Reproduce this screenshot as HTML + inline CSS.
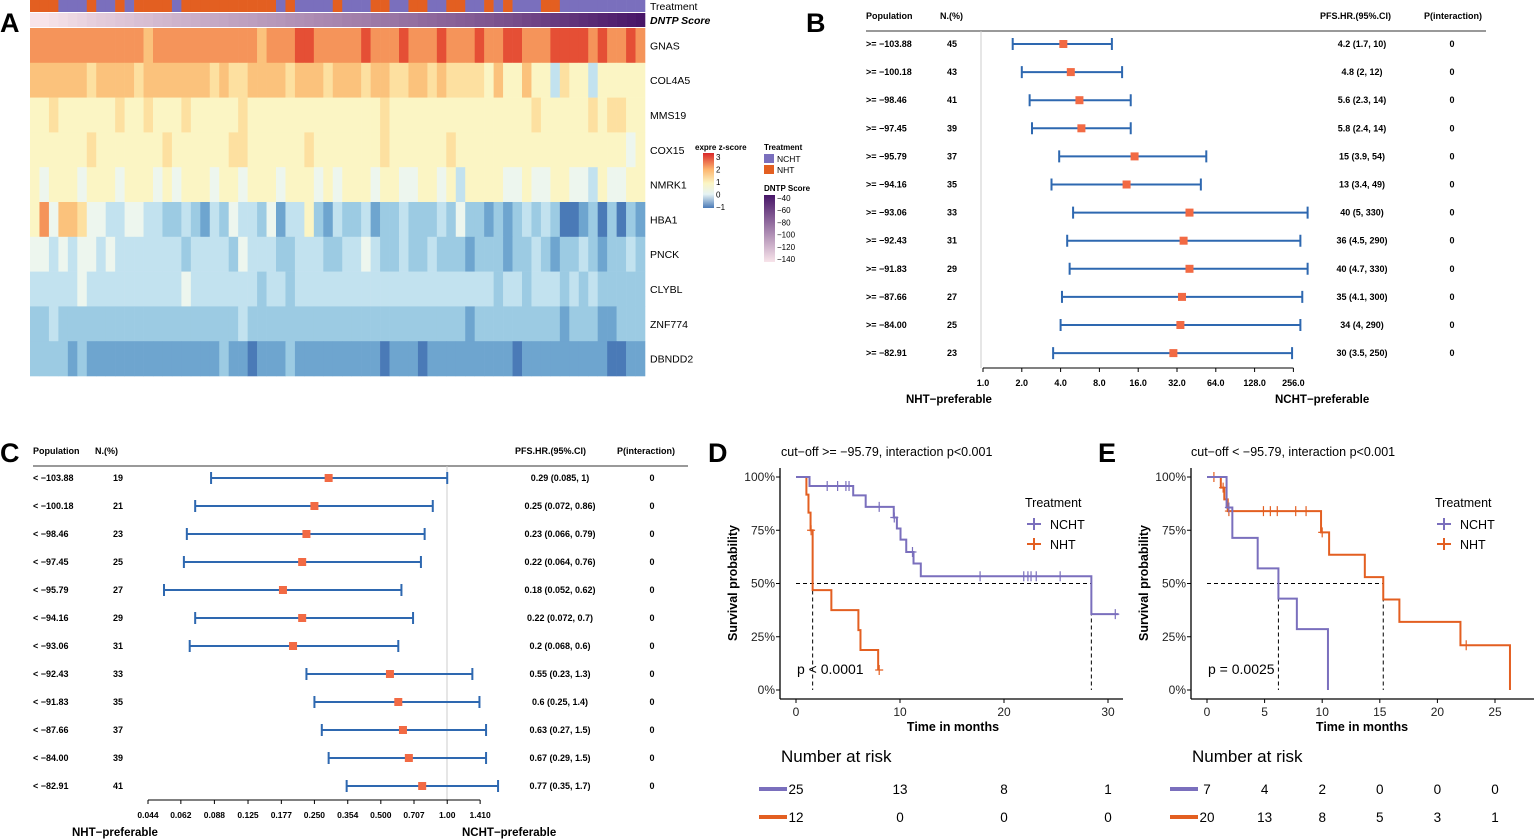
<!DOCTYPE html>
<html><head><meta charset="utf-8"><style>
html,body{margin:0;padding:0;background:#fff;}
svg{display:block;font-family:"Liberation Sans",sans-serif;}
.b{font-weight:bold;}
</style></head><body>
<svg id="fig" width="1534" height="839" viewBox="0 0 1534 839" xmlns="http://www.w3.org/2000/svg"></svg>
<script>
// ---------- DATA ----------
const heatGenes = ["GNAS","COL4A5","MMS19","COX15","NMRK1","HBA1","PNCK","CLYBL","ZNF774","DBNDD2"];
const heatRows = [
"88888 88888 88788 88888 88887 88899 88888 98889 88898 88988 99888 99998 98898",
"77777 76777 76777 77776 76677 77677 76777 67766 77676 66657 55755 36553 55555",
"55655 55556 55655 56555 55655 55555 55555 55655 55555 55555 55565 55556 56655",
"55555 56555 55556 55555 56655 55556 55555 55655 55556 55555 55555 55555 55545",
"54555 45554 55545 45554 55455 54555 45455 54554 45545 35555 44544 55443 54455",
"58477 64433 44332 23213 24332 41335 21322 31223 22232 42212 12323 20012 02021",
"44343 44343 33333 32333 32433 32233 32233 43223 22322 21222 12232 12232 12232",
"33333 43333 33333 34333 33332 33233 33333 33333 33333 33332 33233 32323 22222",
"22322 22222 22222 22222 22322 22222 22222 22222 22222 21222 22222 21222 11222",
"22221 21111 11111 11111 21101 11211 11111 11011 10111 11111 10111 11111 10011"];
const treatSeq = "NNNCC CNCCN CNNNN CNNNN NNNNN NCNCC CCNCC CNNCC NNCCN NCCNC NCCCN NCCCC CCCCC";
const dntpScores = [-145,-140,-138,-136,-134,-132,-130,-128,-127,-125,-124,-122,-121,-119,-118,-116,-115,-114,-112,-111,-110,-108,-107,-106,-104,-103,-102,-100,-99,-98,-96,-95,-94,-92,-91,-90,-88,-87,-86,-84,-83,-81,-80,-78,-77,-75,-74,-72,-71,-69,-68,-66,-64,-62,-60,-58,-56,-54,-52,-50,-48,-46,-44,-42,-40];

const bLabels = ["&gt;= \u2212103.88","&gt;= \u2212100.18","&gt;= \u221298.46","&gt;= \u221297.45","&gt;= \u221295.79","&gt;= \u221294.16","&gt;= \u221293.06","&gt;= \u221292.43","&gt;= \u221291.83","&gt;= \u221287.66","&gt;= \u221284.00","&gt;= \u221282.91"];
const bN = [45,43,41,39,37,35,33,31,29,27,25,23];
const bEst = [4.2,4.8,5.6,5.8,15,13,40,36,40,35,34,30];
const bLow = [1.7,2,2.3,2.4,3.9,3.4,5,4.5,4.7,4.1,4,3.5];
const bHigh = [10,12,14,14,54,49,330,290,330,300,290,250];
const bTickVals = [1,2,4,8,16,32,64,128,256];
const bTickLabels = ["1.0","2.0","4.0","8.0","16.0","32.0","64.0","128.0","256.0"];

const cLabels = ["&lt; \u2212103.88","&lt; \u2212100.18","&lt; \u221298.46","&lt; \u221297.45","&lt; \u221295.79","&lt; \u221294.16","&lt; \u221293.06","&lt; \u221292.43","&lt; \u221291.83","&lt; \u221287.66","&lt; \u221284.00","&lt; \u221282.91"];
const cN = [19,21,23,25,27,29,31,33,35,37,39,41];
const cEst = [0.29,0.25,0.23,0.22,0.18,0.22,0.2,0.55,0.6,0.63,0.67,0.77];
const cLow = [0.085,0.072,0.066,0.064,0.052,0.072,0.068,0.23,0.25,0.27,0.29,0.35];
const cHigh = [1,0.86,0.79,0.76,0.62,0.7,0.6,1.3,1.4,1.5,1.5,1.7];
const cHRtext = ["0.29 (0.085, 1)","0.25 (0.072, 0.86)","0.23 (0.066, 0.79)","0.22 (0.064, 0.76)","0.18 (0.052, 0.62)","0.22 (0.072, 0.7)","0.2 (0.068, 0.6)","0.55 (0.23, 1.3)","0.6 (0.25, 1.4)","0.63 (0.27, 1.5)","0.67 (0.29, 1.5)","0.77 (0.35, 1.7)"];
const bHRtext = ["4.2 (1.7, 10)","4.8 (2, 12)","5.6 (2.3, 14)","5.8 (2.4, 14)","15 (3.9, 54)","13 (3.4, 49)","40 (5, 330)","36 (4.5, 290)","40 (4.7, 330)","35 (4.1, 300)","34 (4, 290)","30 (3.5, 250)"];
const cTickVals = [0.044,0.062,0.088,0.125,0.177,0.250,0.354,0.500,0.707,1.00,1.410];
const cTickLabels = ["0.044","0.062","0.088","0.125","0.177","0.250","0.354","0.500","0.707","1.00","1.410"];

const dNchtT = [0,1.3,5.5,6.7,9.4,9.7,10.05,10.6,11.3,12,28.4,31];
const dNchtS = [100,95.8,91.4,86,81,75.8,70.6,64.8,59.4,53.4,35.6,35.6];
const dNchtCens = [3,4,4.8,5.1,8,9.45,11.2,17.7,21.9,22.3,22.6,23.1,25.4,30.7];
const dNhtT = [0,1.0,1.2,1.4,1.6,3.4,6.0,6.2,7.9];
const dNhtS = [100,91.7,83.3,75,46.9,37.5,28.1,18.8,9.4];
const dNhtCens = [1.45,8.0];
const dMedians = [1.6,28.4];
const dRiskNcht = [25,13,8,1];
const dRiskNht = [12,0,0,0];

const eNchtT = [0,1.7,2.2,4.4,6.2,7.8,10.5];
const eNchtS = [100,85.7,71.4,57.1,42.9,28.6,0];
const eNchtCens = [1.9];
const eNhtT = [0,1.2,1.5,1.8,9.9,10.6,13.7,15.3,16.7,22,26.3];
const eNhtS = [100,95,89.5,84,74,63.5,53,42.5,32,21,0];
const eNhtCens = [0.6,1.4,1.9,4.9,5.5,6.1,7.7,8.6,10,22.5];
const eMedians = [6.2,15.3];
const eRiskNcht = [7,4,2,0,0,0];
const eRiskNht = [20,13,8,5,3,1];

// ---------- HELPERS ----------
const NS="http://www.w3.org/2000/svg";
const svg=document.getElementById('fig');
function mk(tag,attrs,parent){const e=document.createElementNS(NS,tag);for(const k in attrs)e.setAttribute(k,attrs[k]);(parent||svg).appendChild(e);return e;}
function txt(x,y,s,attrs,parent){const e=mk('text',Object.assign({x:x,y:y,'font-size':9},attrs||{}),parent);e.innerHTML=s;return e;}
function g(){return mk('g',{});}
const PUR="#7a6fbd", ORG="#e35f21", BLUE="#2e68b0", SQ="#f26a44";

// ---------- PANEL LETTERS ----------
[["A",0,32],["B",806,32],["C",0,462],["D",708,462],["E",1098,462]].forEach(p=>{
  const t=txt(p[1],p[2],p[0],{'font-size':27,'font-weight':'bold'});
  
  
});

// ---------- PANEL A HEATMAP ----------
const hA=g();


const pal=["#4a7ab7","#6ea5cf","#9ccbe3","#c2e2ef","#edf6ee","#fbf5c4","#fde0a0","#fbc27c","#f5945a","#e54f35"];
const hx0=30,hx1=645;
const tseq=treatSeq.replace(/ /g,'');
const ncol=tseq.length, cw=(hx1-hx0)/ncol;
for(let i=0;i<ncol;i++){
  const r=mk('rect',{x:hx0+i*cw,y:0,width:cw+0.3,height:12,fill:tseq[i]==='N'?ORG:PUR},hA);
  
  
}
function lerp(a,b,t){return Math.round(a+(b-a)*t);}
function dcol(v){const t=Math.max(0,Math.min(1,(v+140)/100));const a=[248,228,234],b=[72,22,104];return `rgb(${lerp(a[0],b[0],t)},${lerp(a[1],b[1],t)},${lerp(a[2],b[2],t)})`;}
const dw=(hx1-hx0)/dntpScores.length;
for(let i=0;i<dntpScores.length;i++){
  const r=mk('rect',{x:hx0+i*dw,y:13,width:dw+0.3,height:14,fill:dcol(dntpScores[i])},hA);
  
  
}
const rowH=(376-28)/heatRows.length;
heatRows.forEach((row,ri)=>{
  const s=row.replace(/ /g,''); const w=(hx1-hx0)/s.length;
  for(let i=0;i<s.length;i++){
    const r=mk('rect',{x:hx0+i*w,y:28+ri*rowH,width:w+0.3,height:rowH+0.3,fill:pal[+s[i]]},hA);
    
    
  }
  const l=txt(650,28+ri*rowH+rowH/2+4,heatGenes[ri],{'font-size':10.5},hA);
  
  
});
let t1=txt(650,10,"Treatment",{'font-size':10.5},hA);


let t2=txt(650,24,"DNTP Score",{'font-size':10.5,'font-weight':'bold','font-style':'italic'},hA);


// legends
const lg=g();


txt(695,150,"expre z-score",{'font-size':8,'font-weight':'bold'},lg);
const gd=mk('defs',{},svg);
gd.innerHTML='<linearGradient id="zg" x1="0" y1="1" x2="0" y2="0"><stop offset="0" stop-color="#4a7ab7"/><stop offset="0.25" stop-color="#e6f3f4"/><stop offset="0.45" stop-color="#fbf5c4"/><stop offset="0.7" stop-color="#fdb56e"/><stop offset="1" stop-color="#d9282a"/></linearGradient><linearGradient id="dg" x1="0" y1="1" x2="0" y2="0"><stop offset="0" stop-color="#f8e4ea"/><stop offset="1" stop-color="#481668"/></linearGradient>';
mk('rect',{x:703,y:153,width:11,height:55,fill:'url(#zg)'},lg);
["3","2","1","0","\u22121"].forEach((s,i)=>txt(716,160+i*12.5,s,{'font-size':8},lg));
txt(764,150,"Treatment",{'font-size':8,'font-weight':'bold'},lg);
mk('rect',{x:764,y:154,width:10,height:9,fill:PUR},lg);
mk('rect',{x:764,y:165,width:10,height:9,fill:ORG},lg);
txt(777,162,"NCHT",{'font-size':8.5},lg);
txt(777,173,"NHT",{'font-size':8.5},lg);
txt(764,191,"DNTP Score",{'font-size':8,'font-weight':'bold'},lg);
mk('rect',{x:764,y:195,width:11,height:67,fill:'url(#dg)'},lg);
["\u221240","\u221260","\u221280","\u2212100","\u2212120","\u2212140"].forEach((s,i)=>txt(777,201+i*12.2,s,{'font-size':8},lg));

// ---------- FOREST PLOTS ----------
function forest(cfg){
  const G=g();
  
  
  const X=v=>cfg.x0+Math.log2(v/cfg.v0)*cfg.k;
  const hy=cfg.hy;
  const hd=[["Population",cfg.colPop],["N.(%)",cfg.colN],["PFS.HR.(95%.CI)",cfg.colHR],["P(interaction)",cfg.colP]];
  hd.forEach(h=>{const t=txt(h[1],hy,h[0],{'font-size':9,'font-weight':'bold'},G);
    
    });
  mk('line',{x1:cfg.colPop,x2:cfg.lineEnd,y1:hy+12,y2:hy+12,stroke:'#333','stroke-width':1},G);
  mk('line',{x1:cfg.refX,x2:cfg.refX,y1:hy+12,y2:cfg.axY,stroke:'#ccc','stroke-width':1},G);
  cfg.est.forEach((e,i)=>{
    const y=cfg.y0+i*cfg.dy;
    const row=mk('g',{},G);
    
    
    txt(cfg.colPop,y+3,cfg.labels[i],{'font-size':9,'font-weight':'bold'},row);
    txt(cfg.colNv,y+3,cfg.n[i],{'font-size':9,'font-weight':'bold','text-anchor':'middle'},row);
    txt(cfg.colHRv,y+3,cfg.hr[i],{'font-size':9,'font-weight':'bold','text-anchor':'middle'},row);
    txt(cfg.colPv,y+3,"0",{'font-size':9,'font-weight':'bold','text-anchor':'middle'},row);
    const l=X(cfg.low[i]),h=X(cfg.high[i]),m=X(e);
    const ci=mk('path',{d:`M${l} ${y-6}V${y+6}M${l} ${y}H${h}M${h} ${y-6}V${y+6}`,stroke:BLUE,'stroke-width':2,fill:'none'},row);
    
    
    const p=mk('rect',{x:m-4,y:y-4,width:8,height:8,fill:SQ},row);
    
    
  });
  mk('line',{x1:X(cfg.ticks[0]),x2:X(cfg.ticks[cfg.ticks.length-1]),y1:cfg.axY,y2:cfg.axY,stroke:'#000','stroke-width':1},G);
  cfg.ticks.forEach((v,i)=>{
    mk('line',{x1:X(v),x2:X(v),y1:cfg.axY,y2:cfg.axY+4,stroke:'#000'},G);
    const t=txt(X(v),cfg.axY+18,cfg.tickLabels[i],{'font-size':cfg.tickFs,'font-weight':'bold','text-anchor':'middle'},G);
    
    
  });
  const a=txt(cfg.leftLab[0],cfg.leftLab[1],"NHT\u2212preferable",{'font-size':11.5,'font-weight':'bold'},G);
  
  
  const b=txt(cfg.rightLab[0],cfg.rightLab[1],"NCHT\u2212preferable",{'font-size':11.5,'font-weight':'bold'},G);
  
  
}
forest({name:'forest-plot-b',x0:983,v0:1,k:38.8,hy:19,colPop:866,colN:940,colHR:1320,colP:1424,lineEnd:1486,refX:981,
  colNv:952,colHRv:1362,colPv:1452,y0:44,dy:28.1,axY:368,labels:bLabels,n:bN,hr:bHRtext,est:bEst,low:bLow,high:bHigh,
  ticks:bTickVals,tickLabels:bTickLabels,tickFs:9,leftLab:[906,403],rightLab:[1275,403]});
forest({name:'forest-plot-c',x0:148,v0:0.044,k:66.4,hy:454,colPop:33,colN:95,colHR:515,colP:617,lineEnd:688,refX:447,
  colNv:118,colHRv:560,colPv:652,y0:478,dy:28,axY:800,labels:cLabels,n:cN,hr:cHRtext,est:cEst,low:cLow,high:cHigh,
  ticks:cTickVals,tickLabels:cTickLabels,tickFs:8.5,leftLab:[72,836],rightLab:[462,836]});

// ---------- KM PLOTS ----------
function km(cfg){
  const G=g();
  
  
  const X=t=>cfg.x0+t*cfg.k, Y=s=>690-s*2.13;
  const tt=txt(cfg.titleX,456,cfg.title,{'font-size':12.5},G);
  
  
  mk('line',{x1:cfg.axX,x2:cfg.axX,y1:468,y2:699,stroke:'#000','stroke-width':1.3},G);
  mk('line',{x1:cfg.axX,x2:cfg.axEnd,y1:699,y2:699,stroke:'#000','stroke-width':1.3},G);
  [0,25,50,75,100].forEach(v=>{
    mk('line',{x1:cfg.axX-4,x2:cfg.axX,y1:Y(v),y2:Y(v),stroke:'#000'},G);
    const t=txt(cfg.axX-5,Y(v)+4,v+"%",{'font-size':12,'text-anchor':'end','fill':'#222'},G);
    
    
  });
  cfg.xt.forEach(v=>{
    mk('line',{x1:X(v),x2:X(v),y1:699,y2:703,stroke:'#000'},G);
    const t=txt(X(v),716,v,{'font-size':12,'text-anchor':'middle','fill':'#222'},G);
    
    
  });
  const xl=txt(cfg.xlabX,731,"Time in months",{'font-size':12.5,'font-weight':'bold','text-anchor':'middle'},G);
  
  
  const yl=txt(0,0,"Survival probability",{'font-size':12.5,'font-weight':'bold','text-anchor':'middle',transform:`translate(${cfg.axX-43},583) rotate(-90)`},G);
  
  
  // median lines
  const m0=cfg.med[0],m1=cfg.med[1];
  const dash=mk('path',{d:`M${X(0)} ${Y(50)}H${X(Math.max(m0,m1))}M${X(m0)} ${Y(50)}V${Y(0)}M${X(m1)} ${Y(50)}V${Y(0)}`,stroke:'#000','stroke-dasharray':'4,3',fill:'none','stroke-width':1},G);
  
  
  function curve(T,S,C,col,nm){
    let d=`M${X(T[0])} ${Y(S[0])}`;
    for(let i=1;i<T.length;i++){d+=`H${X(T[i])}V${Y(S[i])}`;}
    const p=mk('path',{d:d,stroke:col,'stroke-width':2,fill:'none'},G);
    
    
    C.forEach(c=>{let s=S[0];for(let i=0;i<T.length;i++){if(T[i]<=c)s=S[i];}
      const m=mk('path',{d:`M${X(c)} ${Y(s)-5}V${Y(s)+5}M${X(c)-4} ${Y(s)}H${X(c)+4}`,stroke:col,'stroke-width':1.2},G);
      
      });
  }
  curve(cfg.nhtT,cfg.nhtS,cfg.nhtC,ORG,'nht');
  curve(cfg.nchtT,cfg.nchtS,cfg.nchtC,PUR,'ncht');
  const pv=txt(cfg.pX,674,cfg.p,{'font-size':14},G);
  
  
  // legend
  const L=mk('g',{},G);
  
  
  txt(cfg.legX,507,"Treatment",{'font-size':12.5},L);
  [[PUR,"NCHT",524],[ORG,"NHT",544]].forEach(r=>{
    mk('path',{d:`M${cfg.legX+2} ${r[2]}h14M${cfg.legX+9} ${r[2]-6}v12`,stroke:r[0],'stroke-width':2},L);
    txt(cfg.legX+25,r[2]+5,r[1],{'font-size':12.5},L);
  });
  const nr=txt(cfg.riskX,762,"Number at risk",{'font-size':17},G);
  
  
  [[cfg.riskA,PUR,789],[cfg.riskB,ORG,817]].forEach(r=>{
    mk('rect',{x:cfg.riskX-22,y:r[2]-2,width:28,height:4,fill:r[1]},G);
    r[0].forEach((v,i)=>{
      const t=txt(X(cfg.xt[i]),r[2]+5,v,{'font-size':13.5,'text-anchor':'middle'},G);
      
      
    });
  });
}
km({name:'km-plot-d',x0:796,k:10.4,axX:780,axEnd:1123,titleX:781,title:"cut\u2212off &gt;= \u221295.79, interaction p&lt;0.001",
  xt:[0,10,20,30],xlabX:953,med:dMedians,nchtT:dNchtT,nchtS:dNchtS,nchtC:dNchtCens,nhtT:dNhtT,nhtS:dNhtS,nhtC:dNhtCens,
  pX:797,p:"p &lt; 0.0001",legX:1025,riskX:781,riskA:dRiskNcht,riskB:dRiskNht});
km({name:'km-plot-e',x0:1207,k:11.52,axX:1191,axEnd:1534,titleX:1191,title:"cut\u2212off &lt; \u221295.79, interaction p&lt;0.001",
  xt:[0,5,10,15,20,25],xlabX:1362,med:eMedians,nchtT:eNchtT,nchtS:eNchtS,nchtC:eNchtCens,nhtT:eNhtT,nhtS:eNhtS,nhtC:eNhtCens,
  pX:1208,p:"p = 0.0025",legX:1435,riskX:1192,riskA:eRiskNcht,riskB:eRiskNht});
</script>
</body></html>
